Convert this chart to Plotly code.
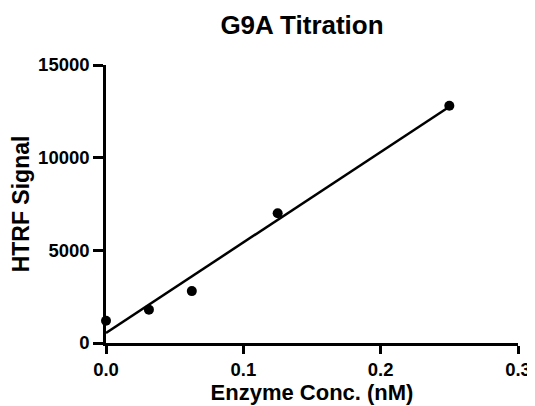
import numpy as np
import plotly.graph_objects as go

enzyme_conc = [0.0, 0.03125, 0.0625, 0.125, 0.25]
htrf_signal = [1200, 1800, 2800, 7000, 12800]
x_ticks = [0.0, 0.1, 0.2, 0.3]
x_tick_labels = ["0.0", "0.1", "0.2", "0.3"]
y_ticks = [0, 5000, 10000, 15000]
y_tick_labels = ["0", "5000", "10000", "15000"]

slope, intercept = np.polyfit(enzyme_conc, htrf_signal, 1)
fit_x = [min(enzyme_conc), max(enzyme_conc)]
fit_y = [intercept + slope * v for v in fit_x]

FONT = "Liberation Sans, Arial, sans-serif"
# page body has an 8px margin, so the figure is drawn 8px smaller
W, H = 527, 398

fig = go.Figure()
fig.add_trace(go.Scatter(x=fit_x, y=fit_y, mode="lines",
                         line=dict(color="black", width=2.5),
                         cliponaxis=False, hoverinfo="skip"))
fig.add_trace(go.Scatter(x=enzyme_conc, y=htrf_signal, mode="markers",
                         marker=dict(color="black", size=10),
                         cliponaxis=False))

fig.update_layout(
    width=W, height=H,
    margin=dict(l=98, r=17, t=57, b=63),
    paper_bgcolor="white", plot_bgcolor="white",
    showlegend=False,
    font=dict(family=FONT, color="black"),
    title=dict(text="<b>G9A Titration</b>", x=294 / W, xanchor="center", xref="container",
               y=1 - 17 / H, yanchor="middle", yref="container",
               font=dict(size=26, family=FONT, color="black")),
)
fig.update_xaxes(
    range=[0, 0.3], tickvals=x_ticks, ticktext=["<b>%s</b>" % t for t in x_tick_labels],
    showline=True, linecolor="black", linewidth=2.5,
    ticks="outside", ticklen=8, tickwidth=2.5, tickcolor="black",
    showgrid=False, zeroline=False, automargin=False,
    tickfont=dict(size=18.5, family=FONT, color="black"),
    title=dict(text="<b>Enzyme Conc. (nM)</b>", standoff=6,
               font=dict(size=22, family=FONT, color="black")),
)
fig.update_yaxes(
    range=[0, 15000], tickvals=y_ticks, ticktext=["<b>%s</b>" % t for t in y_tick_labels],
    showline=True, linecolor="black", linewidth=2.5,
    ticks="outside", ticklen=10, tickwidth=2.5, tickcolor="black",
    showgrid=False, zeroline=False, automargin=False,
    tickfont=dict(size=18.5, family=FONT, color="black"),
    title=dict(text="<b>HTRF Signal</b>", standoff=8,
               font=dict(size=23, family=FONT, color="black")),
)

fig.write_html("out.html")
